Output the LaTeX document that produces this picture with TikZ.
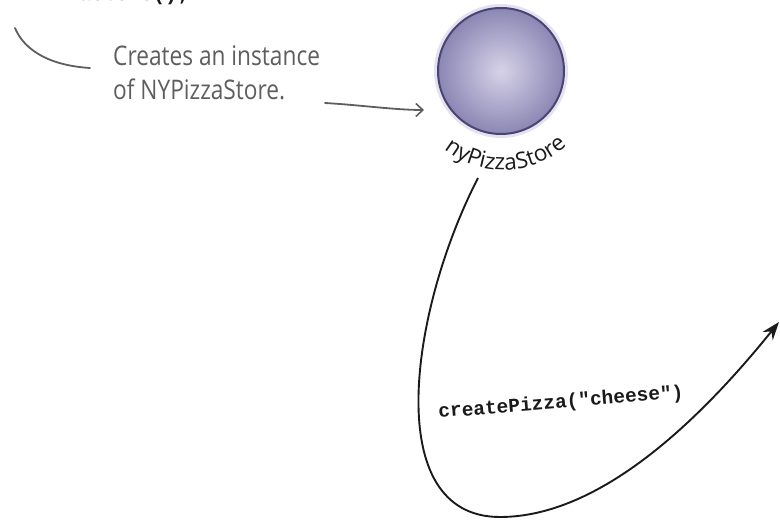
\documentclass[tikz,border=0pt]{standalone}
\usepackage{fontspec}
\setmainfont{Open Sans}
\newfontfamily\hand{Open Sans}[FakeStretch=0.84]
\newfontfamily\codefont{Liberation Mono}
\usetikzlibrary{decorations.text,arrows.meta,calc}
\definecolor{annotgray}{HTML}{5E5E5E}
\definecolor{inkdark}{HTML}{1A1A1A}
\definecolor{pizzain}{HTML}{D6D3E8}
\definecolor{pizzaout}{HTML}{8C86B4}
\definecolor{pizzarim}{HTML}{4A4474}
\definecolor{pizzahalo}{HTML}{D3CFE6}
\tikzset{
  annot/.style={draw=annotgray, line width=1.8pt, line cap=round},
  handtext/.style={text=annotgray, font=\hand\fontsize{27}{31}\selectfont, inner sep=0pt},
  codetext/.style={text=inkdark, font=\codefont\bfseries\fontsize{19.5}{22}\selectfont, inner sep=0pt},
  objcircle/.style={circle, minimum size=126pt, inner sep=0pt, inner color=pizzain, outer color=pizzaout, draw=pizzarim, line width=2pt},
  callarrow/.style={draw=inkdark, line width=1.9pt, -{Stealth[length=18pt,width=13pt]}}
}
\begin{document}
\begin{tikzpicture}[x=1pt,y=1pt]
\useasboundingbox (0,0) rectangle (780,531);
\clip (0,0) rectangle (780,531);
% cropped code line at top
\node[codetext, anchor=base east, font=\codefont\bfseries\fontsize{20.5}{24}\selectfont] (code) at (190,530) {PizzaStore nyPizzaStore = new NYPizzaStore();};
% annotation stroke
\coordinate (s0) at (15,503);
\coordinate (s1) at (90,463);
\draw[annot] (s0) .. controls (22,486) and (42,466) .. (s1);
% annotation text
\node[handtext, anchor=base west] (t1) at (113,465) {Creates an instance};
\node[handtext, anchor=base west] (t2) at (113,431) {of NYPizzaStore.};
% object
\fill[pizzahalo, opacity=0.6] (501,460) circle (67);
\node[objcircle] (store) at (501,460) {};
% annotation arrow
\coordinate (a0) at (325,428);
\coordinate (a1) at (424,421);
\draw[annot, -{Straight Barb[length=7pt,width=13pt,line width=1.6pt]}] (a0) .. controls (360,426) and (395,421) .. (a1);
% curved label
\begin{scope}
\fontsize{22.5}{26}\selectfont
\path[decorate, decoration={text along path, text={nyPizzaStore}, text align=center, text color=inkdark}]
  ($(store.center)+(2,-4)+(224:95)$) arc (224:320:95);
\end{scope}
% call arrow
\coordinate (c0) at (478,353);
\coordinate (cb) at (500,14);
\coordinate (c1) at (779,209);
\draw[callarrow] (c0) .. controls (410,221) and (380,14) .. (cb) .. controls (600,14) and (700,111) .. (c1);
\node[codetext, rotate=4.6] (call) at (561,128) {createPizza("cheese")};
\end{tikzpicture}
\end{document}
